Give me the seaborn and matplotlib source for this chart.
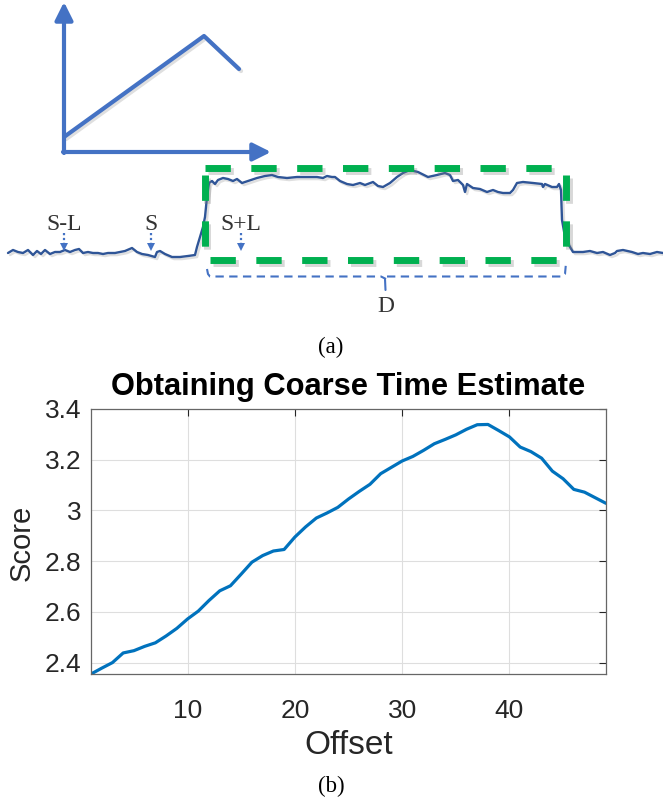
import numpy as np
import pandas as pd
import matplotlib
matplotlib.use("Agg")
import matplotlib.pyplot as plt
import matplotlib.patheffects as pe
import seaborn as sns

# ---------------- panel (b) data ----------------
offsets = list(range(1, 50))
scores = [2.355, 2.378, 2.400, 2.438, 2.447, 2.464, 2.478, 2.505, 2.535, 2.572,
          2.603, 2.645, 2.683, 2.703, 2.749, 2.796, 2.822, 2.840, 2.846, 2.895,
          2.935, 2.970, 2.990, 3.012, 3.045, 3.075, 3.103, 3.145, 3.170, 3.195,
          3.213, 3.237, 3.263, 3.280, 3.298, 3.320, 3.338, 3.339, 3.315, 3.290,
          3.250, 3.232, 3.206, 3.155, 3.125, 3.083, 3.072, 3.050, 3.028]
x_ticks = [10, 20, 30, 40]
x_tick_labels = ["10", "20", "30", "40"]
y_ticks = [2.4, 2.6, 2.8, 3.0, 3.2, 3.4]
y_tick_labels = ["2.4", "2.6", "2.8", "3", "3.2", "3.4"]
title_b = "Obtaining Coarse Time Estimate"
xlabel_b = "Offset"
ylabel_b = "Score"

# ---------------- panel (a) data (sketch, pixel-like units) ----------------
wave_x = [8, 13, 18, 23, 28, 33, 37, 41, 45, 50, 55, 60, 65, 70, 75, 79, 83, 88, 93, 98,
          103, 108, 115, 120, 125, 132, 137, 142, 148, 155, 157, 160, 165, 172, 180, 188,
          195, 197, 200, 203, 205, 207, 209, 212, 215, 218, 223, 228, 233, 237, 242, 248,
          257, 265, 272, 278, 287, 297, 307, 317, 323, 327, 332, 335, 340, 347, 353, 360,
          365, 373, 378, 383, 390, 397, 403, 410, 418, 428, 437, 445, 450, 453, 458, 463,
          465, 467, 473, 480, 487, 493, 498, 503, 510, 513, 517, 523, 533, 542, 543, 545,
          552, 557, 559, 561, 562, 565, 570, 573, 583, 590, 597, 603, 610, 615, 617, 623,
          632, 638, 643, 650, 657, 663]
wave_y = [253, 250, 252, 253, 250, 255, 251, 254, 250, 254, 252, 252, 250, 252, 250, 249, 253, 252, 253, 253,
          254, 253, 253, 252, 251, 248, 252, 254, 255, 257, 252, 251, 254, 257, 257, 256,
          255, 247, 237, 227, 217, 197, 183, 181, 184, 180, 178, 179, 181, 179, 183, 181,
          178, 176, 175, 177, 178, 177, 177, 177, 178, 176, 177, 177, 181, 184, 185, 183,
          185, 182, 186, 187, 183, 177, 173, 170, 172, 177, 175, 173, 175, 181, 180, 185,
          192, 184, 188, 189, 192, 190, 192, 193, 193, 190, 183, 182, 183, 184, 187, 184,
          187, 187, 184, 190, 220, 237, 247, 252, 252, 251, 253, 252, 255, 253, 251, 250,
          252, 254, 253, 254, 252, 253]
sketch_x = [64, 204, 239]
sketch_y = [137, 36, 69]
marker_labels = ["S-L", "S", "S+L"]
marker_x = [64, 151, 241]
duration_label = "D"
captions = ["(a)", "(b)"]

# ---------------- style ----------------
sns.set_theme(style="white")
plt.rcParams["font.family"] = ["Liberation Sans", "DejaVu Sans"]

W, H = 663, 801
fig = plt.figure(figsize=(W / 100, H / 100), dpi=100)

# overlay axes for the schematic (a), in pixel units
ax0 = fig.add_axes([0, 0, 1, 1])
ax0.set_xlim(0, W)
ax0.set_ylim(H, 0)
ax0.axis("off")

shadow = [pe.SimpleLineShadow(offset=(1.5, -1.5), shadow_color="gray", alpha=0.25), pe.Normal()]
blue = "#4472C4"
green = "#00B050"
serif = ["Liberation Serif", "DejaVu Serif"]

# small coordinate sketch
ax0.annotate("", xy=(64, 2), xytext=(64, 153),
             arrowprops=dict(arrowstyle="-|>,head_length=0.9,head_width=0.45", lw=3,
                             color=blue, shrinkA=0, shrinkB=0, mutation_scale=12))
ax0.annotate("", xy=(271, 152), xytext=(63, 152),
             arrowprops=dict(arrowstyle="-|>,head_length=0.9,head_width=0.45", lw=3,
                             color=blue, shrinkA=0, shrinkB=0, mutation_scale=12))
sns.lineplot(x=sketch_x, y=sketch_y, sort=False, estimator=None, ax=ax0,
             color=blue, lw=3, path_effects=shadow)

# waveform
sns.lineplot(x=wave_x, y=wave_y, sort=False, estimator=None, ax=ax0,
             color="#2F5597", lw=1.7, path_effects=shadow)

# green dashed window
gkw = dict(color=green, lw=5.0, dashes=(3.65, 2.95), solid_capstyle="butt",
           path_effects=[pe.SimpleLineShadow(offset=(2, -2), shadow_color="gray", alpha=0.3), pe.Normal()])
ax0.plot([205, 553], [168, 168], **gkw)
ax0.plot([210, 559], [260, 260], **gkw)
ax0.plot([204.5, 204.5], [175, 247], **gkw)
ax0.plot([566, 566], [175, 247], **gkw)

# brace (dashed)
bkw = dict(color=blue, lw=1.5, dashes=(4, 2.6))
ax0.plot([207, 208, 210, 381, 384, 386], [269, 274, 276.5, 276.5, 278, 279], **bkw)
ax0.plot([385, 385.5], [279, 290], color=blue, lw=1.5)
ax0.plot([387, 562, 565, 566], [276.5, 276.5, 274, 263], **bkw)

# marker labels with dotted arrows
for lab, mx in zip(marker_labels, marker_x):
    ax0.text(mx, 225, lab, ha="center", va="center", fontsize=17,
             family=serif, color="#333333")
    ax0.plot([mx, mx], [233, 246], color=blue, lw=1.6, ls=(0, (1, 1.2)))
    ax0.plot([mx], [247], marker="v", ms=6, color=blue, mew=0)

ax0.text(386, 307, duration_label, ha="center", va="center", fontsize=17,
         family=serif, color="#333333")

# captions
ax0.text(331, 347, captions[0], ha="center", va="center", fontsize=16.5,
         family=serif, color="black")
ax0.text(331, 786, captions[1], ha="center", va="center", fontsize=16.5,
         family=serif, color="black")

# ---------------- panel (b) ----------------
ax = fig.add_axes([91 / W, 1 - 674 / H, (606 - 91) / W, (674 - 409) / H])
df = pd.DataFrame({"Offset": offsets, "Score": scores})
sns.lineplot(data=df, x="Offset", y="Score", ax=ax, color="#0072BD", lw=2.3)
ax.set_xlim(1, 49)
ax.set_ylim(2.355, 3.4)
ax.set_xticks(x_ticks)
ax.set_xticklabels(x_tick_labels)
ax.set_yticks(y_ticks)
ax.set_yticklabels(y_tick_labels)
ax.grid(True, color="#dedede", lw=0.8)
ax.set_axisbelow(True)
ax.tick_params(axis="both", direction="in", length=5, width=0.8, color="#262626",
               labelcolor="#262626", labelsize=19, top=True, right=True)
ax.tick_params(axis="x", pad=18)
ax.tick_params(axis="y", pad=7)
for s in ax.spines.values():
    s.set_visible(True)
    s.set_color("#666666")
    s.set_linewidth(0.9)
ax.set_title(title_b, fontsize=22.2, fontweight="bold", pad=10, color="black")
ax.set_xlabel(xlabel_b, fontsize=24, color="#262626")
ax.set_ylabel(ylabel_b, fontsize=21, color="#262626")
ax.xaxis.label.set_va("center")
ax.xaxis.set_label_coords(0.5, (674 - 745) / 265)
ax.yaxis.label.set_va("center")
ax.yaxis.set_label_coords((22 - 91) / 515, (674 - 543) / 265)

fig.savefig("out.png", dpi=100)
